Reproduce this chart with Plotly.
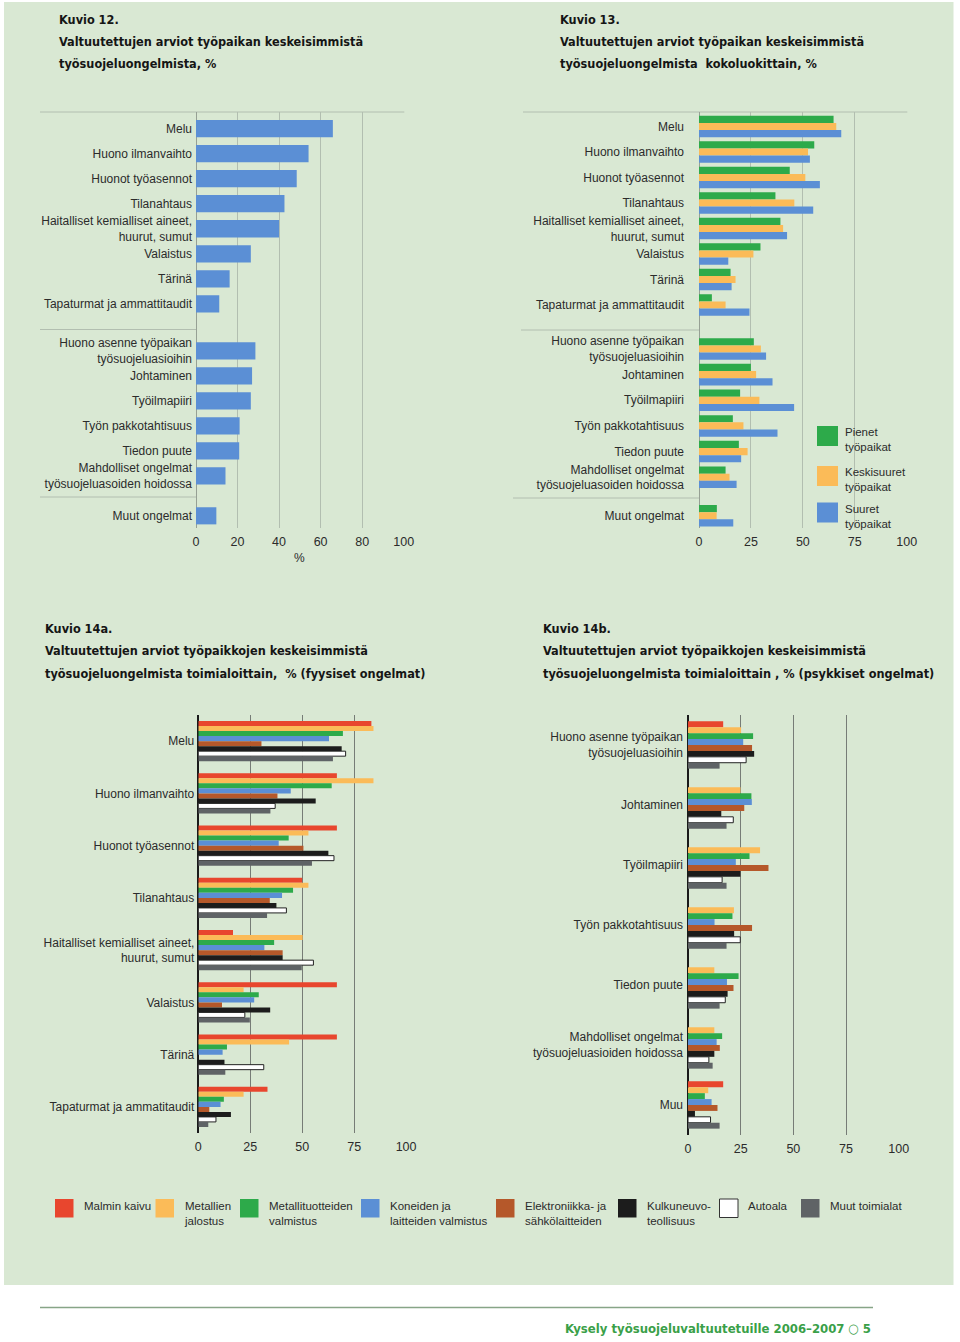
import plotly.graph_objects as go

W, H = 960, 1342


def px(x):
    return x / W


def py(y):
    return 1 - y / H


# ---------------- DATA ----------------
# Kuvio 12 / 13 categories (three groups)
cats_phys = ["Melu", "Huono ilmanvaihto", "Huonot työasennot", "Tilanahtaus",
             "Haitalliset kemialliset aineet,<br>huurut, sumut", "Valaistus", "Tärinä",
             "Tapaturmat ja ammattitaudit"]
cats_psych = ["Huono asenne työpaikan<br>työsuojeluasioihin", "Johtaminen", "Työilmapiiri",
              "Työn pakkotahtisuus", "Tiedon puute",
              "Mahdolliset ongelmat<br>työsuojeluasoiden hoidossa"]
cats_other = ["Muut ongelmat"]

# Kuvio 12 values (%)
k12_phys = [65.9, 54.2, 48.5, 42.6, 40.0, 26.4, 16.2, 11.2]
k12_psych = [28.6, 27.0, 26.4, 21.0, 20.8, 14.2]
k12_other = [9.8]

# Kuvio 13 values (%) by workplace size
size_names = ["Pienet<br>työpaikat", "Keskisuuret<br>työpaikat", "Suuret<br>työpaikat"]
pienet_phys = [64.8, 55.5, 43.7, 36.8, 39.2, 29.6, 15.2, 6.2]
pienet_psych = [26.4, 25.0, 19.8, 16.3, 19.2, 12.8]
pienet_other = [8.6]
keski_phys = [66.1, 52.5, 51.2, 45.9, 40.5, 26.2, 17.6, 12.8]
keski_psych = [29.8, 27.5, 29.1, 21.4, 23.4, 14.7]
keski_other = [8.5]
suuret_phys = [68.5, 53.4, 58.2, 55.0, 42.4, 14.1, 15.7, 24.3]
suuret_psych = [32.3, 35.4, 45.8, 37.8, 20.3, 18.1]
suuret_other = [16.5]

# Kuvio 14a / 14b
cats_14a = ["Melu", "Huono ilmanvaihto", "Huonot työasennot", "Tilanahtaus",
            "Haitalliset kemialliset aineet,<br>huurut, sumut", "Valaistus", "Tärinä",
            "Tapaturmat ja ammatitaudit"]
cats_14b = ["Huono asenne työpaikan<br>työsuojeluasioihin", "Johtaminen", "Työilmapiiri",
            "Työn pakkotahtisuus", "Tiedon puute",
            "Mahdolliset ongelmat<br>työsuojeluasioiden hoidossa", "Muu"]
industries = ["Malmin kaivu", "Metallien<br>jalostus", "Metallituotteiden<br>valmistus",
              "Koneiden ja<br>laitteiden valmistus", "Elektroniikka- ja<br>sähkölaitteiden",
              "Kulkuneuvo-<br>teollisuus", "Autoala", "Muut toimialat"]

malmi_14a = [83.3, 66.7, 66.7, 50.0, 16.7, 66.7, 66.7, 33.3]
jalostus_14a = [84.3, 84.3, 53.0, 53.0, 50.2, 21.8, 43.7, 21.8]
metallituote_14a = [69.6, 64.2, 43.5, 45.6, 36.5, 29.1, 13.8, 12.3]
koneet_14a = [62.9, 44.5, 38.7, 40.3, 31.8, 26.9, 11.7, 10.7]
elektro_14a = [30.4, 38.1, 50.6, 34.4, 40.6, 11.4, 0.0, 5.3]
kulkuneuvo_14a = [69.0, 56.5, 62.6, 37.6, 40.6, 34.6, 12.6, 15.7]
autoala_14a = [70.9, 37.0, 65.3, 42.4, 55.4, 22.4, 31.5, 8.5]
muut_14a = [64.8, 34.7, 54.7, 33.1, 49.8, 24.8, 13.0, 4.8]

malmi_14b = [16.7, 0.0, 0.0, 0.0, 0.0, 0.0, 16.7]
jalostus_14b = [25.2, 24.9, 34.2, 21.8, 12.5, 12.5, 9.6]
metallituote_14b = [30.9, 30.1, 29.2, 21.1, 24.0, 16.2, 8.0]
koneet_14b = [26.2, 30.3, 22.7, 12.6, 18.5, 13.6, 11.2]
elektro_14b = [30.4, 26.7, 38.2, 30.4, 21.6, 15.1, 14.0]
kulkuneuvo_14b = [31.4, 15.8, 24.9, 21.9, 18.8, 12.5, 3.3]
autoala_14b = [27.6, 21.5, 16.2, 24.8, 17.7, 9.9, 10.7]
muut_14b = [15.0, 18.3, 18.3, 18.3, 15.0, 11.7, 15.0]

x_ticks_12 = [0, 20, 40, 60, 80, 100]
x_ticks_25 = [0, 25, 50, 75, 100]

# ---------------- STYLE ----------------
BOX = "rgb(217,232,211)"
BLUE = "#5b8fd5"
GREEN = "#2daa4a"
YELLOW = "#fbbb58"
RED = "#e8462e"
BROWN = "#b5582a"
BLACK = "#1c1c1c"
WHITE = "#ffffff"
GRAY = "#5f6366"
ind_colors = [RED, YELLOW, GREEN, BLUE, BROWN, BLACK, WHITE, GRAY]
size_colors = [GREEN, YELLOW, BLUE]

LF = "Liberation Sans, Arial, sans-serif"
TF = "DejaVu Sans Condensed, Liberation Sans Narrow, sans-serif"
TXT = "#2b2b2b"

fig = go.Figure()
layout = dict(
    width=W, height=H, autosize=False,
    margin=dict(l=0, r=0, t=0, b=0, pad=0),
    paper_bgcolor="white", plot_bgcolor="rgba(0,0,0,0)",
    barmode="overlay", showlegend=False,
    font=dict(family=LF, size=12, color=TXT),
)


def add_axes(n, xd, ydom, yrange, cats, tickvals, gridcolor, zerocolor, zerowidth,
             show_xlabels, standoff):
    xa = "xaxis" if n == 1 else f"xaxis{n}"
    ya = "yaxis" if n == 1 else f"yaxis{n}"
    yid = "y" if n == 1 else f"y{n}"
    xid = "x" if n == 1 else f"x{n}"
    layout[xa] = dict(
        domain=[px(xd[0]), px(xd[1])], range=[0, 100.3], anchor=yid,
        tickmode="array", tickvals=tickvals, showgrid=True, gridcolor=gridcolor,
        gridwidth=1, zeroline=True, zerolinecolor=zerocolor, zerolinewidth=zerowidth,
        showline=False, ticks="", showticklabels=show_xlabels, automargin=False,
        tickfont=dict(family=LF, size=12.5, color=TXT), ticklabelstandoff=4,
        fixedrange=True,
    )
    layout[ya] = dict(
        domain=[py(ydom[1]), py(ydom[0])], anchor=xid, type="category",
        categoryorder="array", categoryarray=cats, range=yrange, automargin=False,
        showgrid=False, zeroline=False, showline=False, ticks="",
        tickfont=dict(family=LF, size=12, color=TXT), ticklabelstandoff=standoff,
        fixedrange=True,
    )
    return xid, yid


GRID_LIGHT = "rgb(178,190,176)"
GRID_DARK = "rgb(118,124,118)"

# Kuvio 12
k12_groups = [(cats_phys, k12_phys, (112, 329.5), [8.02, -0.66]),
              (cats_psych, k12_psych, (329.5, 497), [5.84, -0.85]),
              (cats_other, k12_other, (497, 528), [0.49, -0.75])]
for i, (cats, vals, yd, yr) in enumerate(k12_groups):
    n = i + 1
    xid, yid = add_axes(n, (196, 404.3), yd, yr, cats, x_ticks_12, GRID_LIGHT,
                        "rgb(150,160,148)", 1.2, i == 2, 3)
    fig.add_trace(go.Bar(x=vals, y=cats, orientation="h", xaxis=xid, yaxis=yid,
                         width=0.69, offset=-0.345, marker=dict(color=BLUE, line_width=0),
                         name="Kuvio 12"))

# Kuvio 13
k13_series = [(pienet_phys, pienet_psych, pienet_other),
              (keski_phys, keski_psych, keski_other),
              (suuret_phys, suuret_psych, suuret_other)]
k13_layout = [(cats_phys, (112, 329.5), [7.96, -0.57]),
              (cats_psych, (329.5, 497.5), [5.79, -0.76]),
              (cats_other, (497.5, 528), [0.48, -0.72])]
bw13 = 0.28
for i, (cats, yd, yr) in enumerate(k13_layout):
    n = i + 4
    xid, yid = add_axes(n, (699, 907.3), yd, yr, cats, x_ticks_25, GRID_LIGHT,
                        "rgb(150,160,148)", 1.2, i == 2, 14)
    for s, series in enumerate(k13_series):
        fig.add_trace(go.Bar(x=series[i], y=cats, orientation="h", xaxis=xid, yaxis=yid,
                             width=bw13, offset=-1.5 * bw13 + s * bw13,
                             marker=dict(color=size_colors[s], line_width=0),
                             name=size_names[s]))

# Kuvio 14a
s14a = [malmi_14a, jalostus_14a, metallituote_14a, koneet_14a, elektro_14a,
        kulkuneuvo_14a, autoala_14a, muut_14a]
xid, yid = add_axes(7, (198.3, 406.7), (715, 1133), [7.5, -0.5], cats_14a, x_ticks_25,
                    GRID_DARK, "#1a1a1a", 2, True, 3)
bw = 0.096
for s, vals in enumerate(s14a):
    fig.add_trace(go.Bar(x=vals, y=cats_14a, orientation="h", xaxis=xid, yaxis=yid,
                         width=bw, offset=-4 * bw + s * bw,
                         marker=dict(color=ind_colors[s],
                                     line=dict(color="#222", width=1 if ind_colors[s] == WHITE else 0)),
                         name=industries[s]))

# Kuvio 14b
s14b = [malmi_14b, jalostus_14b, metallituote_14b, koneet_14b, elektro_14b,
        kulkuneuvo_14b, autoala_14b, muut_14b]
xid, yid = add_axes(8, (688, 899.3), (715, 1135), [6.5, -0.5], cats_14b, x_ticks_25,
                    GRID_DARK, "#1a1a1a", 2, True, 4)
bw = 0.0985
for s, vals in enumerate(s14b):
    fig.add_trace(go.Bar(x=vals, y=cats_14b, orientation="h", xaxis=xid, yaxis=yid,
                         width=bw, offset=-4 * bw + s * bw,
                         marker=dict(color=ind_colors[s],
                                     line=dict(color="#222", width=1 if ind_colors[s] == WHITE else 0)),
                         name=industries[s]))

# ---------------- SHAPES ----------------
shapes = []


def rect(x0, y0, x1, y1, fill, line=None, lw=0, layer="below"):
    shapes.append(dict(type="rect", xref="paper", yref="paper",
                       x0=px(x0), x1=px(x1), y0=py(y1), y1=py(y0),
                       fillcolor=fill, line=dict(color=line or fill, width=lw), layer=layer))


def hline(x0, x1, y, color, w=1, layer="below"):
    shapes.append(dict(type="line", xref="paper", yref="paper",
                       x0=px(x0), x1=px(x1), y0=py(y), y1=py(y),
                       line=dict(color=color, width=w), layer=layer))


rect(4, 2, 953.5, 1285, BOX)
# top borders and group separators
hline(40, 404.3, 112, GRID_LIGHT)
hline(40, 196, 329.5, GRID_LIGHT)
hline(40, 196, 497, GRID_LIGHT)
hline(523, 907.3, 112, GRID_LIGHT)
hline(521, 699, 330, GRID_LIGHT)
hline(513, 699, 498, GRID_LIGHT)
# footer line
hline(40, 873, 1307.5, "rgb(135,165,135)", 1.5, "above")

# ---------------- ANNOTATIONS ----------------
ann = []


def text(x, y, s, size=12, family=LF, color=TXT, xanchor="left", yanchor="middle", align="left"):
    ann.append(dict(x=px(x), y=py(y), xref="paper", yref="paper", text=s, showarrow=False,
                    xanchor=xanchor, yanchor=yanchor, align=align,
                    font=dict(family=family, size=size, color=color)))


titles = [
    (57, 19, ["Kuvio 12.", "Valtuutettujen arviot työpaikan keskeisimmistä",
              "työsuojeluongelmista, %"]),
    (558, 19, ["Kuvio 13.", "Valtuutettujen arviot työpaikan keskeisimmistä",
               "työsuojeluongelmista  kokoluokittain, %"]),
    (43, 628, ["Kuvio 14a.", "Valtuutettujen arviot työpaikkojen keskeisimmistä",
               "työsuojeluongelmista toimialoittain,  % (fyysiset ongelmat)"]),
    (541, 628, ["Kuvio 14b.", "Valtuutettujen arviot työpaikkojen keskeisimmistä",
                "työsuojeluongelmista toimialoittain , % (psykkiset ongelmat)"]),
]
for x, y, lines in titles:
    for k, line in enumerate(lines):
        text(x, y + 22.5 * k, f"<b>{line}</b>", size=12.6, family=TF, color="#151515")

# % under Kuvio 12 axis
text(299, 558, "%", size=12, xanchor="center")

# Kuvio 13 legend
leg13_y = [426, 466, 502.5]
for s in range(3):
    rect(817, leg13_y[s], 838, leg13_y[s] + 20, size_colors[s], layer="above")
    text(843, leg13_y[s] - 2, size_names[s], size=11.5, yanchor="top")

# Kuvio 14 legend
leg14_x = [55, 155.5, 240, 361, 496, 618, 719.5, 801]
for s in range(8):
    c = ind_colors[s]
    rect(leg14_x[s], 1199, leg14_x[s] + 18.5, 1217.5, c,
         line="#333" if c == WHITE else c, lw=1 if c == WHITE else 0, layer="above")
    text(leg14_x[s] + 26.5, 1198, industries[s], size=11.5, yanchor="top")

# footer
text(873, 1328, "<b>Kysely työsuojeluvaltuutetuille 2006–2007 ○ 5</b>", size=13, family=TF,
     color="rgb(58,160,72)", xanchor="right")

layout["shapes"] = shapes
layout["annotations"] = ann
fig.update_layout(**layout)

fig.write_html("out.html", config={"displayModeBar": False},
               post_script="document.body.style.margin='0';document.body.style.overflow='hidden';")
